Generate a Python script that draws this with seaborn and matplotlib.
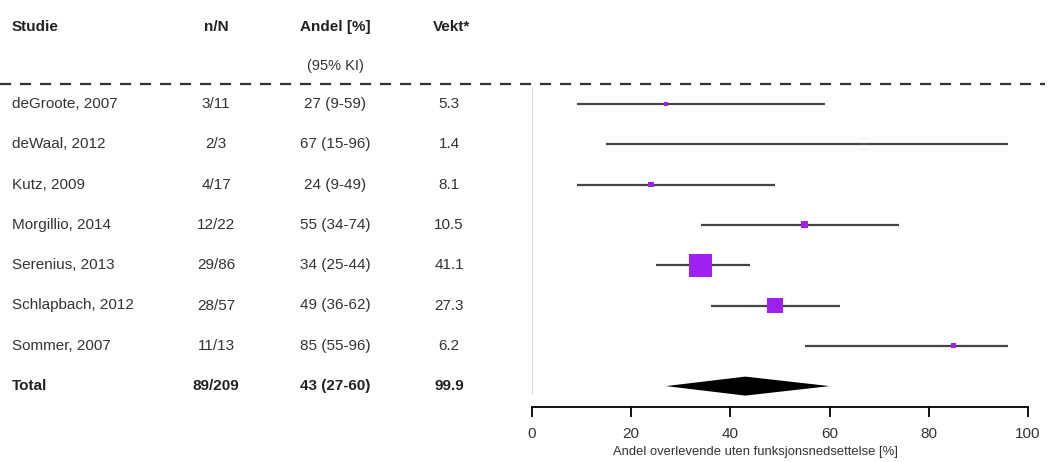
import matplotlib
matplotlib.use("Agg")
import matplotlib.pyplot as plt
from matplotlib.transforms import blended_transform_factory
from matplotlib.lines import Line2D
import numpy as np
import pandas as pd
import seaborn as sns

# Study data
studies = ["deGroote, 2007", "deWaal, 2012", "Kutz, 2009", "Morgillio, 2014",
           "Serenius, 2013", "Schlapbach, 2012", "Sommer, 2007"]
n_over_N = ["3/11", "2/3", "4/17", "12/22", "29/86", "28/57", "11/13"]
estimate = [27, 67, 24, 55, 34, 49, 85]
ci_low = [9, 15, 9, 34, 25, 36, 55]
ci_high = [59, 96, 49, 74, 44, 62, 96]
weight = [5.3, 1.4, 8.1, 10.5, 41.1, 27.3, 6.2]

# Pooled estimate
total_label = "Total"
total_nN = "89/209"
total_est = 43
total_low = 27
total_high = 60
total_weight = 99.9

headers = ["Studie", "n/N", "Andel [%]", "Vekt*"]
subheader = "(95% KI)"
xlabel = "Andel overlevende uten funksjonsnedsettelse [%]"
xticks = [0, 20, 40, 60, 80, 100]

sns.set_theme(style="white")
plt.rcParams["font.family"] = ["Liberation Sans", "DejaVu Sans"]

W, H = 1053, 462
fig = plt.figure(figsize=(W / 100, H / 100), dpi=100)
ax_left, ax_right = 532 / W, 1028 / W
ax_top, ax_bot = 84 / H, 407 / H
ax = fig.add_axes([ax_left, 1 - ax_bot, ax_right - ax_left, ax_bot - ax_top])

row0, step = 104, 40.3
ax.set_xlim(0, 100)
ax.set_ylim((407 - row0) / step, (84 - row0) / step)

df = pd.DataFrame({
    "study": studies, "est": estimate, "lo": ci_low, "hi": ci_high,
    "w": weight, "row": np.arange(len(studies)),
})

purple = "#A020F0"
line_col = "#454545"
text_col = "#333333"
bold_col = "#222222"

# reference line at 0
ax.plot([0, 0], [(88 - row0) / step, (394 - row0) / step], color="#d0d0d0",
        lw=1.2, zorder=1)

# confidence intervals
ax.hlines(df["row"], df["lo"], df["hi"], color=line_col, lw=1.6, zorder=2)

# study boxes, side grows with weight
side_px = df["w"] * 0.53 + 1.5
side_pt = side_px * 0.72
sns.scatterplot(data=df, x="est", y="row", marker="s", color=purple,
                s=side_pt ** 2, linewidth=0, ax=ax, zorder=3, legend=False)

# pooled diamond
trow = len(studies)
h = 9.5 / step
ax.fill([total_low, total_est, total_high, total_est],
        [trow, trow - h, trow, trow + h], color="black", lw=0, zorder=3)

# axis styling
for s in ["left", "top", "right"]:
    ax.spines[s].set_visible(False)
ax.spines["bottom"].set_color("black")
ax.spines["bottom"].set_linewidth(1.3)
ax.set_yticks([])
ax.set_xticks(xticks)
ax.tick_params(axis="x", direction="out", length=7.2, width=1.3, color="black",
               labelsize=11, labelcolor=text_col, pad=7.5, bottom=True)
ax.set_xlabel(xlabel, fontsize=9.4, color=text_col)
ax.xaxis.set_label_coords((755 - 532) / (1028 - 532), -(452 - 407) / (407 - 84),
                          transform=ax.transAxes)
ax.xaxis.label.set_va("center")
ax.set_ylabel("")

# table text
tr = blended_transform_factory(fig.transFigure, ax.transData)
col_x = {"study": 12 / W, "nN": 216 / W, "andel": 335 / W, "vekt": 449 / W}


def row_y(px):
    return (px - row0) / step


fs = 11
hdr_y = row_y(27)
for key, txt, dx in [("study", headers[0], 0), ("nN", headers[1], 0),
                     ("andel", headers[2], 0), ("vekt", headers[3], 3 / W)]:
    ax.text(col_x[key] + dx, hdr_y, txt, transform=tr,
            ha="left" if key == "study" else "center", va="center",
            fontsize=fs, fontweight="bold", color=bold_col, clip_on=False)
ax.text(col_x["andel"], row_y(66), subheader, transform=tr, ha="center",
        va="center", fontsize=10.5, color=text_col, clip_on=False)

for i in range(len(studies)):
    ax.text(col_x["study"], i, studies[i], transform=tr, ha="left", va="center",
            fontsize=fs, color=text_col, clip_on=False)
    ax.text(col_x["nN"], i, n_over_N[i], transform=tr, ha="center", va="center",
            fontsize=fs, color=text_col, clip_on=False)
    ax.text(col_x["andel"], i, f"{estimate[i]} ({ci_low[i]}-{ci_high[i]})",
            transform=tr, ha="center", va="center", fontsize=fs, color=text_col,
            clip_on=False)
    ax.text(col_x["vekt"], i, f"{weight[i]}", transform=tr, ha="center",
            va="center", fontsize=fs, color=text_col, clip_on=False)

for key, txt in [("study", total_label), ("nN", total_nN),
                 ("andel", f"{total_est} ({total_low}-{total_high})"),
                 ("vekt", f"{total_weight}")]:
    ax.text(col_x[key], trow, txt, transform=tr,
            ha="left" if key == "study" else "center", va="center",
            fontsize=fs, fontweight="bold", color=bold_col, clip_on=False)

# dashed separator under the header
fig.add_artist(Line2D([0, 1045 / W], [1 - 84 / H, 1 - 84 / H],
                      transform=fig.transFigure, color="#333333", lw=1.6,
                      linestyle=(0, (5, 4))))

fig.savefig("out.png", dpi=100, facecolor="white")
